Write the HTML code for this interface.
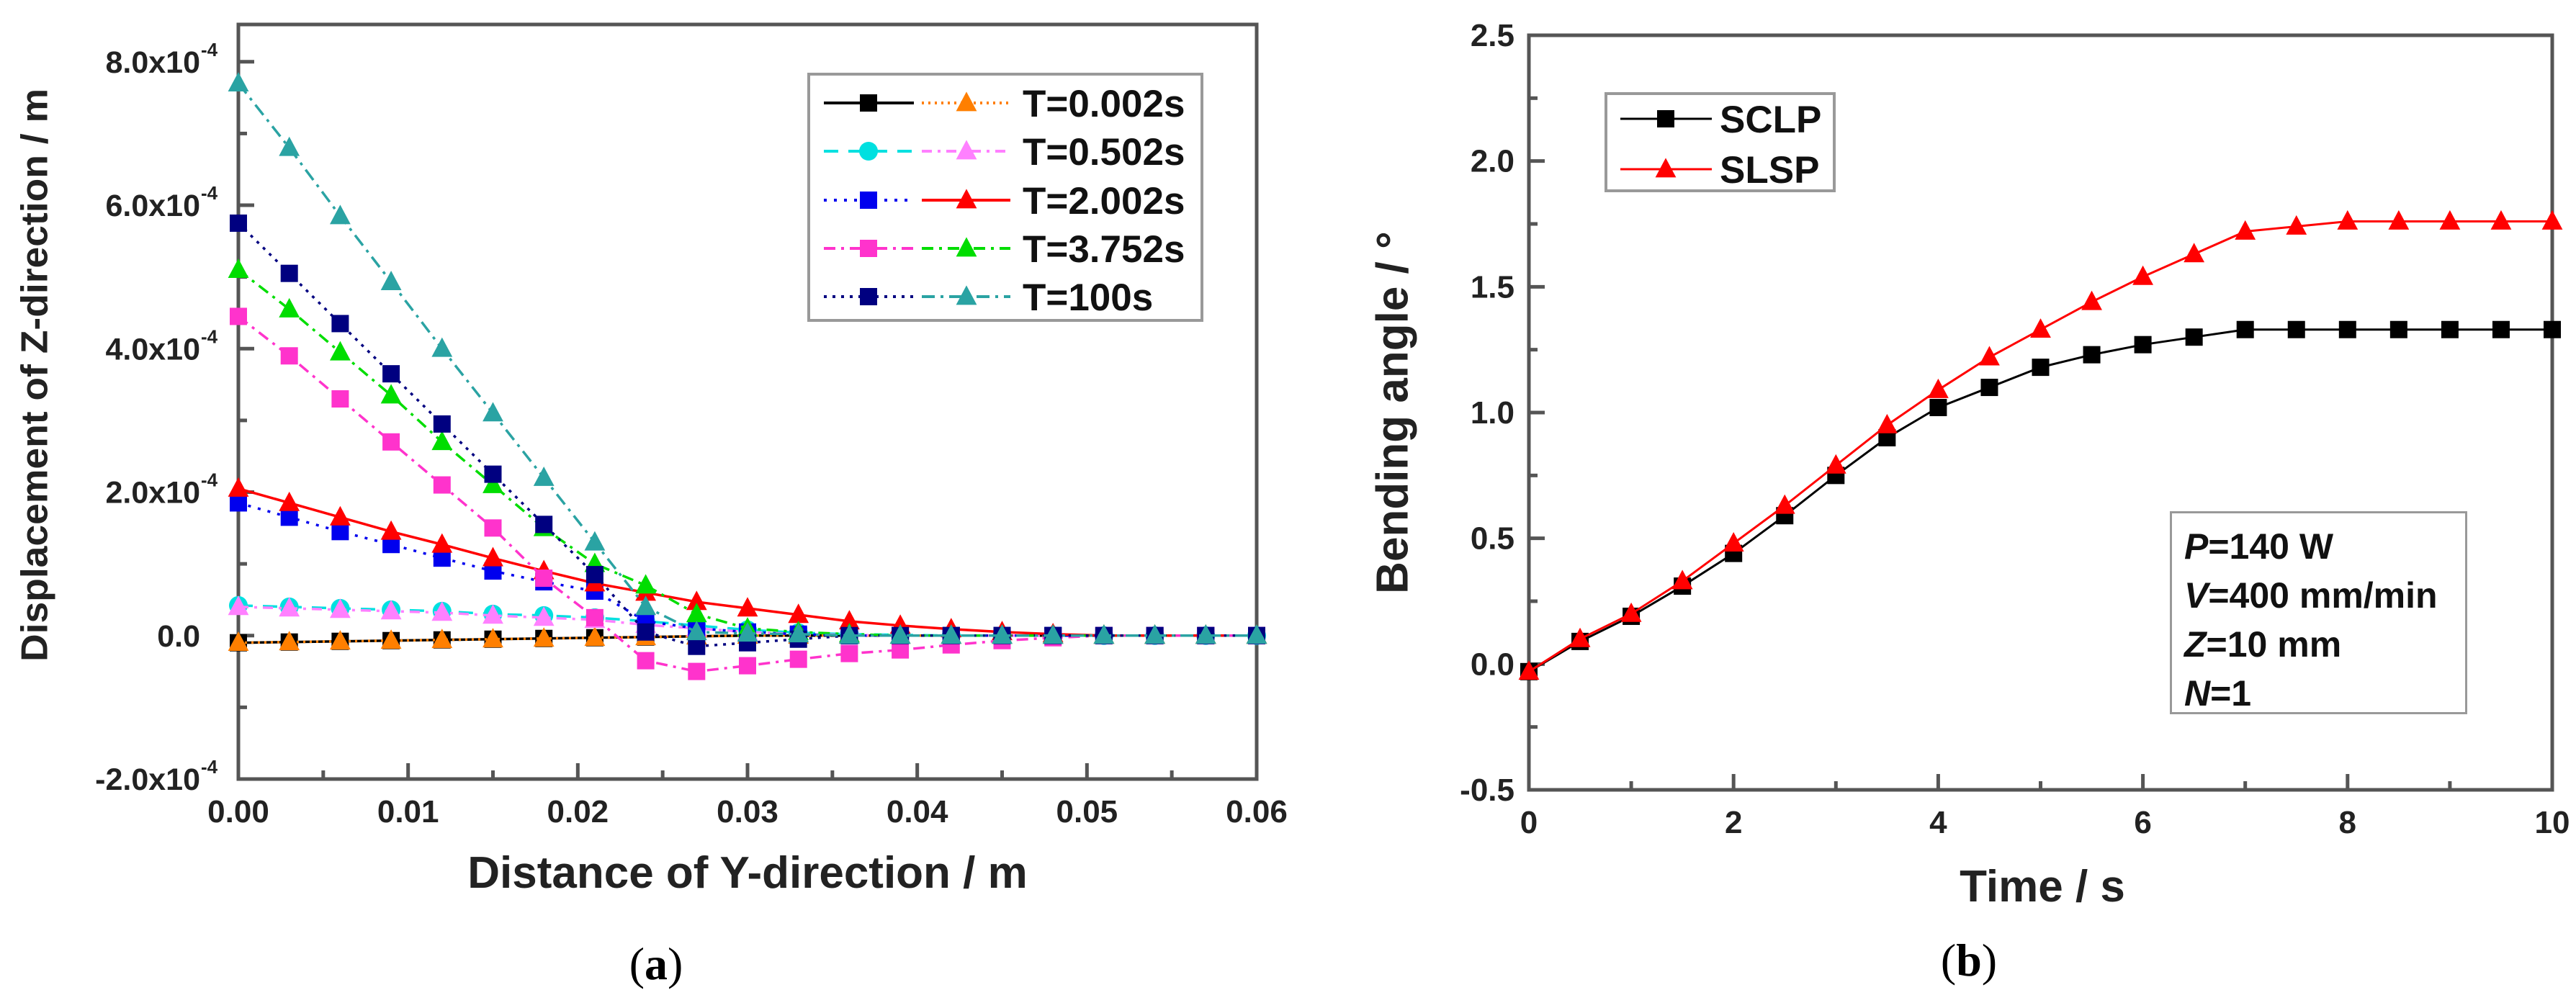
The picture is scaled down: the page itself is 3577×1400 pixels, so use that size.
<!DOCTYPE html>
<html><head><meta charset="utf-8">
<style>
html,body{margin:0;padding:0;background:#fff;}
svg{display:block;font-family:"Liberation Sans",sans-serif;}
</style></head>
<body>
<svg id="fig" width="3577" height="1400" viewBox="0 0 3577 1400" xmlns="http://www.w3.org/2000/svg">
  <g id="chartA"></g>
  <g id="chartB"></g>
  <text x="52" y="521" transform="rotate(-90 52 521)" text-anchor="middle" dominant-baseline="middle" font-weight="bold" font-size="52" textLength="796" lengthAdjust="spacingAndGlyphs" fill="#222">Displacement of Z-direction / m</text>
  <text x="1038" y="1233" text-anchor="middle" font-weight="bold" font-size="62" fill="#222">Distance of Y-direction / m</text>
  <text x="911" y="1360" text-anchor="middle" font-family="Liberation Serif, serif" font-size="64" fill="#000">(<tspan font-weight="bold">a</tspan>)</text>
  <text x="1938" y="573" transform="rotate(-90 1938 573)" text-anchor="middle" dominant-baseline="middle" font-weight="bold" font-size="62" fill="#222">Bending angle / °</text>
  <text x="2836" y="1252" text-anchor="middle" font-weight="bold" font-size="62" fill="#222">Time / s</text>
  <text x="2734" y="1355" text-anchor="middle" font-family="Liberation Serif, serif" font-size="64" fill="#000">(<tspan font-weight="bold">b</tspan>)</text>
</svg>
<script>
// ---------- Chart A data ----------
const xA = [0,0.003,0.006,0.009,0.012,0.015,0.018,0.021,0.024,0.027,0.030,0.033,0.036,0.039,0.042,0.045,0.048,0.051,0.054,0.057,0.060];
const s002sq = [-0.1,-0.09,-0.08,-0.07,-0.06,-0.05,-0.04,-0.03,-0.02,-0.01,0,0,0,0,0,0,0,0,0,0,0];
const s002tri = [-0.1,-0.09,-0.08,-0.07,-0.06,-0.05,-0.04,-0.03,-0.02,-0.01,0,0,0,0,0,0,0,0,0,0,0];
const s0502circ = [0.42,0.4,0.38,0.36,0.34,0.3,0.28,0.25,0.2,0.14,0.08,0.04,0.02,0.01,0,0,0,0,0,0,0];
const s0502tri = [0.4,0.38,0.36,0.34,0.32,0.28,0.25,0.22,0.15,0.1,0.05,0.02,0.01,0,0,0,0,0,0,0,0];
const s2002sq = [1.85,1.65,1.45,1.27,1.08,0.9,0.75,0.62,0.2,0.1,0.05,0.02,0,0,0,0,0,0,0,0,0];
const s2002tri = [2.05,1.85,1.65,1.45,1.27,1.08,0.9,0.73,0.6,0.47,0.38,0.29,0.2,0.14,0.09,0.05,0.02,0,0,0,0];
const s3752sq = [4.45,3.9,3.3,2.7,2.1,1.5,0.8,0.25,-0.35,-0.5,-0.42,-0.33,-0.25,-0.2,-0.13,-0.07,-0.03,0,0,0,0];
const s3752tri = [5.1,4.55,3.95,3.35,2.7,2.1,1.5,1.0,0.7,0.3,0.1,0.05,0.02,0,0,0,0,0,0,0,0];
const s100sq = [5.75,5.05,4.35,3.65,2.95,2.25,1.55,0.85,0.05,-0.15,-0.1,-0.05,0,0,0,0,0,0,0,0,0];
const s100tri = [7.7,6.8,5.85,4.93,4.0,3.1,2.2,1.3,0.4,0.05,0.03,0.02,0,0,0,0,0,0,0,0,0];
const xTicksA = [0,0.01,0.02,0.03,0.04,0.05,0.06];
const xTickLabelsA = ["0.00","0.01","0.02","0.03","0.04","0.05","0.06"];
const yTicksA = [-2,0,2,4,6,8];
const yTickLabelsA = ["-2.0x10","0.0","2.0x10","4.0x10","6.0x10","8.0x10"];
const legendLabelsA = ["T=0.002s","T=0.502s","T=2.002s","T=3.752s","T=100s"];

// ---------- Chart B data ----------
const tB = [0,0.5,1,1.5,2,2.5,3,3.5,4,4.5,5,5.5,6,6.5,7,7.5,8,8.5,9,9.5,10];
const sclp = [-0.03,0.09,0.19,0.31,0.44,0.59,0.75,0.9,1.02,1.1,1.18,1.23,1.27,1.3,1.33,1.33,1.33,1.33,1.33,1.33,1.33];
const slsp = [-0.03,0.1,0.2,0.33,0.48,0.63,0.79,0.95,1.09,1.22,1.33,1.44,1.54,1.63,1.72,1.74,1.76,1.76,1.76,1.76,1.76];
const xTicksB = [0,2,4,6,8,10];
const xTickLabelsB = ["0","2","4","6","8","10"];
const yTicksB = [-0.5,0,0.5,1,1.5,2,2.5];
const yTickLabelsB = ["-0.5","0.0","0.5","1.0","1.5","2.0","2.5"];

const NS = "http://www.w3.org/2000/svg";
function mk(parent, tag, attrs){
  const e = document.createElementNS(NS, tag);
  for (const k in attrs) e.setAttribute(k, attrs[k]);
  parent.appendChild(e);
  return e;
}
function marker(g, type, cx, cy, color, size){
  let e;
  if (type === "sq") {
    e = mk(g, "rect", {x: cx-size/2, y: cy-size/2, width: size, height: size, fill: color});
  } else if (type === "circ") {
    e = mk(g, "circle", {cx: cx, cy: cy, r: size/2+1, fill: color});
  } else {
    const h = size*1.05;
    e = mk(g, "polygon", {points: `${cx},${cy-h*0.62} ${cx-size*0.6},${cy+h*0.45} ${cx+size*0.6},${cy+h*0.45}`, fill: color});
  }
  return e;
}

// ---------- Chart A ----------
(function(){
  const g = document.getElementById("chartA");
  const L=331, R=1745, T=34, B=1082;
  const xmin=0, xmax=0.06, ymin=-2, ymax=8.52;
  const X = v => L + (v-xmin)/(xmax-xmin)*(R-L);
  const Y = v => B - (v-ymin)/(ymax-ymin)*(B-T);
  const frame = mk(g, "rect", {x:L, y:T, width:R-L, height:B-T, fill:"none", stroke:"#555", "stroke-width":5});
  
  
  for (let v=0; v<=0.0601; v+=0.005) {
    const major = Math.abs(v/0.01 - Math.round(v/0.01)) < 1e-6;
    const tk = mk(g, "line", {x1:X(v), x2:X(v), y1:B, y2:B-(major?22:12), stroke:"#555", "stroke-width":5});
    
    
  }
  for (let v=-2; v<=8.01; v+=1) {
    const major = v % 2 === 0;
    const tk = mk(g, "line", {x1:L, x2:L+(major?22:12), y1:Y(v), y2:Y(v), stroke:"#555", "stroke-width":5});
    
    
  }
  xTicksA.forEach((v,i)=>{
    const t = mk(g, "text", {x:X(v), y:B+60, "text-anchor":"middle", "font-size":44, "font-weight":"bold", fill:"#222"});
    t.textContent = xTickLabelsA[i];
    
    
  });
  yTicksA.forEach((v,i)=>{
    const t = mk(g, "text", {x:278, y:Y(v)+15, "text-anchor":"end", "font-size":43, "font-weight":"bold", fill:"#222"});
    t.textContent = yTickLabelsA[i];
    
    
    if (v !== 0) {
      const s = mk(g, "text", {x:279, y:Y(v)-8, "font-size":26, "font-weight":"bold", fill:"#222"});
      s.textContent = "-4";
      
      
    }
  });
  const series = [
    {d:s002sq, c:"#000000", m:"sq", dash:"", name:"series-0002-square"},
    {d:s002tri, c:"#ff7f00", m:"tri", dash:"3 6", name:"series-0002-triangle"},
    {d:s0502circ, c:"#00e0e0", m:"circ", dash:"20 14", name:"series-0502-circle"},
    {d:s0502tri, c:"#ff80ff", m:"tri", dash:"14 8 4 8", name:"series-0502-triangle"},
    {d:s2002sq, c:"#0000ee", m:"sq", dash:"4 10", name:"series-2002-square"},
    {d:s2002tri, c:"#ff0000", m:"tri", dash:"", name:"series-2002-triangle"},
    {d:s3752sq, c:"#ff33cc", m:"sq", dash:"16 8 4 8", name:"series-3752-square"},
    {d:s3752tri, c:"#00dd00", m:"tri", dash:"16 8 4 8", name:"series-3752-triangle"},
    {d:s100sq, c:"#000080", m:"sq", dash:"4 8", name:"series-100-square"},
    {d:s100tri, c:"#2aa3a3", m:"tri", dash:"18 8 4 8", name:"series-100-triangle"}
  ];
  series.forEach(s=>{
    const sg = mk(g, "g", {});
    
    
    const pts = xA.map((x,i)=>`${X(x)},${Y(s.d[i])}`).join(" ");
    const pl = mk(sg, "polyline", {points:pts, fill:"none", stroke:s.c, "stroke-width":3.5, "stroke-dasharray":s.dash});
    
    
    xA.forEach((x,i)=>{
      const mm = marker(sg, s.m, X(x), Y(s.d[i]), s.c, 24);
      
      
    });
  });
  // legend
  const lg = mk(g, "g", {});
  
  
  const lb = mk(lg, "rect", {x:1123, y:103, width:546, height:342, fill:"#fff", stroke:"#999", "stroke-width":4});
  
  
  const ys = [143,210,278,345,412];
  for (let i=0;i<5;i++){
    const e = mk(lg, "g", {});
    
    
    const a = series[2*i], b = series[2*i+1];
    mk(e, "line", {x1:1144, x2:1269, y1:ys[i], y2:ys[i], stroke:a.c, "stroke-width":4, "stroke-dasharray":a.dash});
    marker(e, a.m, 1206, ys[i], a.c, 24);
    mk(e, "line", {x1:1280, x2:1403, y1:ys[i], y2:ys[i], stroke:b.c, "stroke-width":4, "stroke-dasharray":b.dash});
    marker(e, b.m, 1342, ys[i], b.c, 24);
    const t = mk(e, "text", {x:1420, y:ys[i]+19, "font-size":53, "font-weight":"bold", fill:"#111"});
    t.textContent = legendLabelsA[i];
  }
})();

// ---------- Chart B ----------
(function(){
  const g = document.getElementById("chartB");
  const L=2123, R=3544, T=49, B=1097;
  const xmin=0, xmax=10, ymin=-0.5, ymax=2.5;
  const X = v => L + (v-xmin)/(xmax-xmin)*(R-L);
  const Y = v => B - (v-ymin)/(ymax-ymin)*(B-T);
  const frame = mk(g, "rect", {x:L, y:T, width:R-L, height:B-T, fill:"none", stroke:"#555", "stroke-width":5});
  
  
  for (let v=0; v<=10; v+=1) {
    const tk = mk(g, "line", {x1:X(v), x2:X(v), y1:B, y2:B-(v%2===0?22:12), stroke:"#555", "stroke-width":5});
    
    
  }
  for (let v=-0.5; v<=2.501; v+=0.25) {
    const major = Math.abs(v*2-Math.round(v*2))<1e-6;
    const tk = mk(g, "line", {x1:L, x2:L+(major?22:12), y1:Y(v), y2:Y(v), stroke:"#555", "stroke-width":5});
    
    
  }
  xTicksB.forEach((v,i)=>{
    const t = mk(g, "text", {x:X(v), y:B+60, "text-anchor":"middle", "font-size":44, "font-weight":"bold", fill:"#222"});
    t.textContent = xTickLabelsB[i];
    
    
  });
  yTicksB.forEach((v,i)=>{
    const t = mk(g, "text", {x:2103, y:Y(v)+15, "text-anchor":"end", "font-size":44, "font-weight":"bold", fill:"#222"});
    t.textContent = yTickLabelsB[i];
    
    
  });
  const series = [
    {d:sclp, c:"#000", m:"sq", name:"series-sclp"},
    {d:slsp, c:"#ff0000", m:"tri", name:"series-slsp"}
  ];
  series.forEach(s=>{
    const sg = mk(g, "g", {});
    
    
    const pts = tB.map((x,i)=>`${X(x)},${Y(s.d[i])}`).join(" ");
    const pl = mk(sg, "polyline", {points:pts, fill:"none", stroke:s.c, "stroke-width":3});
    
    
    tB.forEach((x,i)=>{
      const mm = marker(sg, s.m, X(x), Y(s.d[i]), s.c, 24);
      
      
    });
  });
  const lg = mk(g, "g", {});
  
  
  mk(lg, "rect", {x:2230, y:130, width:317, height:135, fill:"#fff", stroke:"#999", "stroke-width":4});
  const names = ["SCLP","SLSP"], ly=[165,235];
  for (let i=0;i<2;i++){
    const e = mk(lg, "g", {});
    
    
    mk(e, "line", {x1:2250, x2:2377, y1:ly[i], y2:ly[i], stroke:series[i].c, "stroke-width":3});
    marker(e, series[i].m, 2313, ly[i], series[i].c, 24);
    const t = mk(e, "text", {x:2388, y:ly[i]+19, "font-size":53, "font-weight":"bold", fill:"#111"});
    t.textContent = names[i];
  }
})();
</script>
<svg width="0" height="0" style="position:absolute;left:0;top:0"></svg>
<div style="position:absolute;left:3013px;top:710px;width:413px;height:282px;border:3px solid #999;box-sizing:border-box;background:#fff;font-family:'Liberation Sans',sans-serif;font-weight:bold;font-size:50px;line-height:68px;color:#111;padding:12px 0 0 17px;">
  <div><i>P</i>=140 W</div>
  <div><i>V</i>=400 mm/min</div>
  <div><i>Z</i>=10 mm</div>
  <div><i>N</i>=1</div>
</div>
</body></html>
